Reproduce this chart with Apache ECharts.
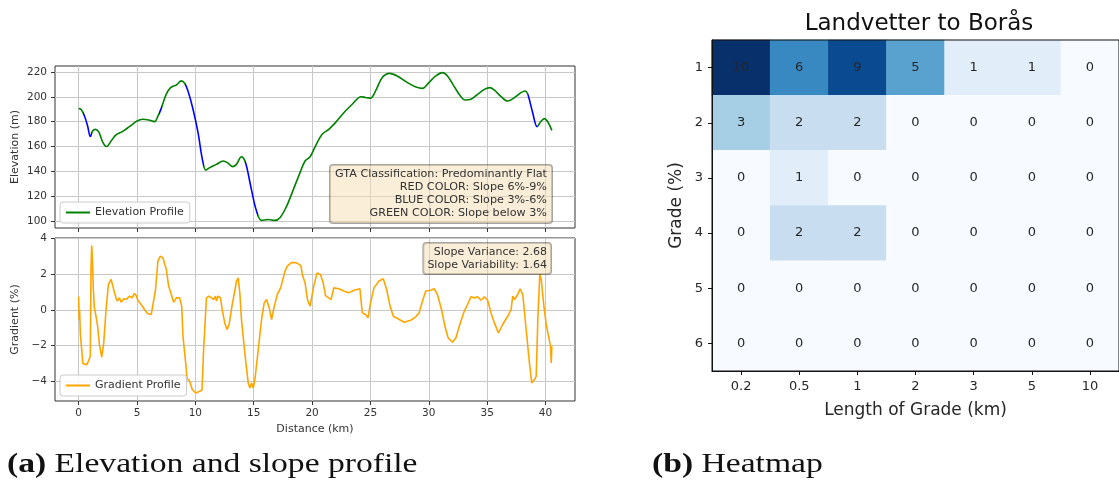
<!DOCTYPE html>
<html><head><meta charset="utf-8">
<script src="https://cdn.jsdelivr.net/npm/echarts@6/dist/echarts.min.js"></script>
<style>html,body{margin:0;padding:0;background:#fff}#c{width:1119px;height:484px}</style>
</head><body><div id="c"></div>
<script>
// ---------- Elevation profile (distance km, elevation m) ----------
const elevDist = [0,0.2,0.5,0.77,1.0,1.2,1.43,1.72,2.06,2.4,2.78,3.2,3.78,4.35,5.0,5.5,6.0,6.5,6.8,7.08,7.5,7.88,8.37,8.8,9.08,9.37,9.8,10.23,10.6,10.9,11.23,11.8,12.38,12.75,13.18,13.52,13.95,14.15,14.38,14.8,15.24,15.67,16.25,16.8,17.25,17.82,18.4,18.97,19.4,19.83,20.29,20.86,21.43,22.0,22.72,23.44,24.2,24.58,25.0,25.44,26.0,26.65,27.3,28.17,28.9,29.46,30.0,30.6,31.17,31.6,32.18,32.75,33.1,33.6,34.18,34.76,35.24,35.6,36.2,36.76,37.33,37.9,38.25,38.48,38.9,39.28,39.63,39.9,40.2,40.54];
const elevValues = [190.5,190,184.6,176.5,168,172.5,173.8,171.7,163.6,160,164.4,169.3,172.2,176,180.5,181.9,181.3,180,184.6,190.7,202,207.4,209.5,212.8,210.9,204.7,190,171.1,149.7,141,143,145.6,148.3,147,143.8,145.6,151.8,150.2,144.3,125.5,108,100.5,101.3,100.5,102.7,112,125.5,139,148.3,151.8,160.4,169.8,173.8,179.2,187.2,194,200.1,199.5,198.8,204.7,215.4,218.9,216.8,211.4,207.9,206.8,211.4,216.8,219.5,216.8,208.2,200.1,197.4,198,202,206,207.4,205.5,200.1,196.6,199.3,203.4,204.7,202,187.2,176,180.5,182.4,179.7,173];
// distance ranges drawn in blue (slope 3%-6%)
const blueSegments = [[0.35,1.15],[6.9,7.1],[9.1,10.7],[14.25,15.4],[38.5,39.3]];

// ---------- Gradient profile (distance km, gradient %) ----------
const gradDist = [0,0.04,0.08,0.15,0.26,0.36,0.5,0.69,0.83,0.92,1.0,1.06,1.12,1.17,1.26,1.35,1.49,1.63,1.78,1.98,2.15,2.35,2.55,2.78,2.92,3.15,3.3,3.5,3.64,3.87,4.07,4.36,4.58,4.78,4.93,5.07,5.36,5.64,5.93,6.22,6.36,6.59,6.79,6.99,7.22,7.51,7.71,7.94,8.14,8.37,8.65,8.83,8.94,9.17,9.28,9.51,9.74,10.03,10.37,10.57,10.72,10.95,11.17,11.38,11.58,11.72,11.81,11.95,12.15,12.32,12.52,12.72,12.89,13.18,13.38,13.52,13.67,13.81,13.95,14.15,14.33,14.53,14.67,14.81,14.96,15.1,15.39,15.67,15.9,16.1,16.33,16.53,16.73,17.02,17.31,17.68,17.88,18.25,18.62,19.03,19.2,19.4,19.6,19.83,20.14,20.43,20.72,20.95,21.15,21.43,21.63,21.86,22.29,22.72,23.15,23.58,24.1,24.3,24.58,24.79,25.01,25.3,25.73,26.1,26.39,26.68,26.96,27.36,27.88,28.45,28.88,29.17,29.46,29.74,30.17,30.46,30.74,31.09,31.38,31.66,32.03,32.32,32.61,32.98,33.32,33.61,33.9,34.18,34.47,34.76,35.04,35.33,35.62,35.96,36.33,36.76,37.05,37.19,37.34,37.62,37.82,38.05,38.34,38.62,38.82,39.05,39.2,39.34,39.51,39.63,39.86,40.06,40.26,40.43,40.49,40.54];
const gradValues = [0.75,-0.55,0.0,-1.4,-2.2,-3.0,-3.07,-3.07,-2.88,-2.97,-2.6,2.26,3.6,3.0,1.14,0.11,-0.36,-0.92,-1.94,-2.64,-1.85,0.02,1.42,1.7,1.6,0.77,0.49,0.67,0.43,0.62,0.58,0.77,0.67,0.92,0.8,0.54,0.3,0.02,-0.22,-0.26,-0.17,1.14,2.73,3.0,2.92,2.26,1.33,0.86,0.43,0.67,0.67,0.21,-1.48,-2.97,-3.81,-4.0,-4.47,-4.65,-4.56,-4.47,-2.04,0.67,0.77,0.67,0.58,0.77,0.49,0.77,0.67,-0.07,-0.73,-1.1,-0.82,0.39,1.05,1.61,1.79,0.95,-0.54,-1.85,-2.97,-4.09,-4.37,-4.09,-4.37,-3.9,-2.22,-0.54,0.39,0.58,0.11,-0.54,0.11,0.86,1.23,2.17,2.45,2.65,2.64,2.49,1.89,1.51,0.58,0.21,1.33,2.07,1.98,1.51,0.8,0.67,0.58,1.23,1.18,1.05,0.95,1.1,1.18,-0.17,-0.26,-0.45,0.39,1.23,1.61,1.74,1.14,0.21,-0.36,-0.5,-0.69,-0.58,-0.39,-0.17,0.49,1.05,1.1,1.18,0.86,0.02,-0.92,-1.57,-1.81,-1.57,-0.92,-0.17,0.3,0.73,0.67,0.73,0.54,0.73,0.54,-0.17,-0.73,-1.29,-0.82,-0.36,0.02,0.77,0.58,0.86,1.18,0.86,-1.1,-2.97,-4.09,-3.9,-3.72,-0.54,2.0,1.7,0.21,-0.82,-1.48,-2.04,-2.97,-2.04];

const distTicks = [0,5,10,15,20,25,30,35,40];
const elevTicks = [100,120,140,160,180,200,220];
const gradTicks = [-4,-2,0,2,4];
const slopeVariance = 2.68;
const slopeVariability = 1.64;

// ---------- Heatmap ----------
const lengthCats = ['0.2','0.5','1','2','3','5','10'];
const gradeCats = ['1','2','3','4','5','6'];
const heatRow1 = [10,6,9,5,1,1,0];
const heatRow2 = [3,2,2,0,0,0,0];
const heatRow3 = [0,1,0,0,0,0,0];
const heatRow4 = [0,2,2,0,0,0,0];
const heatRow5 = [0,0,0,0,0,0,0];
const heatRow6 = [0,0,0,0,0,0,0];
const heatRows = [heatRow1,heatRow2,heatRow3,heatRow4,heatRow5,heatRow6];

const FONT = '"DejaVu Sans", sans-serif';
const minusFmt = v => (v < 0 ? '\u2212' + Math.abs(v) : String(v));

const heatData = [];
heatRows.forEach((row, yi) => row.forEach((v, xi) => heatData.push([xi, yi, v])));

const chart = echarts.init(document.getElementById('c'), null, {renderer: 'canvas'});
const gridLine = {show: true, lineStyle: {color: '#c8c8c8', width: 1}};
const tickStyle = {lineStyle: {color: '#333'}};
const labelBase = {fontFamily: FONT, fontSize: 10.5, color: '#333'};
const legendBase = {selectedMode: false, backgroundColor: 'rgba(255,255,255,0.85)',
  borderColor: '#cccccc', borderWidth: 1, borderRadius: 3, padding: [5, 6, 5, 6],
  icon: 'rect', itemWidth: 24, itemHeight: 2, itemGap: 8,
  textStyle: {fontFamily: FONT, fontSize: 11, color: '#333'}};
const boxStyle = {align: 'right', verticalAlign: 'top', fill: '#333', lineHeight: 13,
  backgroundColor: 'rgba(245,222,179,0.5)', borderColor: 'rgba(0,0,0,0.35)', borderWidth: 1, borderRadius: 3};

chart.setOption({
  animation: false,
  backgroundColor: '#fff',
  grid: [
    {left: 55, top: 66, width: 520, height: 162, show: true, borderColor: '#333', borderWidth: 1, backgroundColor: 'transparent'},
    {left: 55, top: 238, width: 520, height: 163, show: true, borderColor: '#333', borderWidth: 1, backgroundColor: 'transparent'},
    {left: 712, top: 40, width: 414, height: 331, show: true, borderColor: '#111', borderWidth: 1, backgroundColor: 'transparent', z: 5}
  ],
  xAxis: [
    {gridIndex: 0, type: 'value', min: -2.025, max: 42.525,
     axisLine: {show: false, onZero: false},
     axisTick: Object.assign({show: true, length: 4, customValues: distTicks}, tickStyle),
     axisLabel: {show: false, customValues: distTicks},
     splitLine: gridLine},
    {gridIndex: 1, type: 'value', min: -2.025, max: 42.525,
     axisLine: {show: false, onZero: false},
     axisTick: Object.assign({show: true, length: 4, customValues: distTicks}, tickStyle),
     axisLabel: Object.assign({customValues: distTicks, margin: 7}, labelBase),
     splitLine: gridLine,
     name: 'Distance (km)', nameLocation: 'middle', nameGap: 23,
     nameTextStyle: {fontFamily: FONT, fontSize: 11, color: '#333'}},
    {gridIndex: 2, type: 'category', data: lengthCats, position: 'bottom', z: 6,
     axisLine: {show: true, lineStyle: {color: '#111'}},
     axisTick: {show: true, alignWithLabel: true, length: 4, lineStyle: {color: '#111'}},
     axisLabel: {fontFamily: FONT, fontSize: 13, color: '#262626', margin: 9},
     splitLine: {show: false},
     name: 'Length of Grade (km)', nameLocation: 'middle', nameGap: 31,
     nameTextStyle: {fontFamily: FONT, fontSize: 17, color: '#262626'}}
  ],
  yAxis: [
    {gridIndex: 0, type: 'value', min: 94.4, max: 224.8,
     axisLine: {show: false, onZero: false},
     axisTick: Object.assign({show: true, length: 4, customValues: elevTicks}, tickStyle),
     axisLabel: Object.assign({customValues: elevTicks, margin: 8}, labelBase),
     splitLine: gridLine,
     name: 'Elevation (m)', nameLocation: 'middle', nameGap: 34, nameRotate: 90,
     nameTextStyle: {fontFamily: FONT, fontSize: 11, color: '#333'}},
    {gridIndex: 1, type: 'value', min: -5.1, max: 4.02,
     axisLine: {show: false, onZero: false},
     axisTick: Object.assign({show: true, length: 4, customValues: gradTicks}, tickStyle),
     axisLabel: Object.assign({customValues: gradTicks, margin: 8, formatter: minusFmt}, labelBase),
     splitLine: gridLine,
     name: 'Gradient (%)', nameLocation: 'middle', nameGap: 34, nameRotate: 90,
     nameTextStyle: {fontFamily: FONT, fontSize: 11, color: '#333'}},
    {gridIndex: 2, type: 'category', data: gradeCats, inverse: true, z: 6,
     axisLine: {show: true, lineStyle: {color: '#111'}},
     axisTick: {show: true, alignWithLabel: true, length: 4, lineStyle: {color: '#111'}},
     axisLabel: {fontFamily: FONT, fontSize: 13, color: '#262626', margin: 9},
     splitLine: {show: false},
     name: 'Grade (%)', nameLocation: 'middle', nameGap: 27, nameRotate: 90,
     nameTextStyle: {fontFamily: FONT, fontSize: 17, color: '#262626'}}
  ],
  visualMap: [
    {type: 'piecewise', show: false, seriesIndex: 0, dimension: 0,
     pieces: blueSegments.map(s => ({gte: s[0], lte: s[1], color: '#0000ff'})),
     outOfRange: {color: '#008000'}},
    {type: 'continuous', show: false, seriesIndex: 2, min: 0, max: 10, dimension: 2,
     inRange: {color: ['#f7fbff','#e1edf8','#c9ddf0','#a6cee4','#82badb','#59a1cf','#3888c1','#1f6db1','#0d58a1','#0a4a90','#08306b']}}
  ],
  legend: [
    Object.assign({data: [{name: 'Elevation Profile', itemStyle: {color: '#008000'}}], left: 60, top: 202}, legendBase),
    Object.assign({data: [{name: 'Gradient Profile', itemStyle: {color: '#ffa500'}}], left: 60, top: 375}, legendBase)
  ],
  series: [
    {type: 'line', name: 'Elevation Profile', xAxisIndex: 0, yAxisIndex: 0,
     data: elevDist.map((d, i) => [d, elevValues[i]]),
     symbol: 'none', showSymbol: false, smooth: 0.35, z: 3,
     lineStyle: {width: 1.6}, emphasis: {disabled: true}},
    {type: 'line', name: 'Gradient Profile', xAxisIndex: 1, yAxisIndex: 1,
     data: gradDist.map((d, i) => [d, gradValues[i]]),
     symbol: 'none', showSymbol: false, z: 3, color: '#ffa500',
     lineStyle: {width: 1.6, color: '#ffa500'}, emphasis: {disabled: true}},
    {type: 'heatmap', xAxisIndex: 2, yAxisIndex: 2, data: heatData,
     label: {show: true, fontFamily: FONT, fontSize: 13, color: '#262626'},
     emphasis: {disabled: true}}
  ],
  graphic: [
    {type: 'text', x: 552, y: 165, z: 20,
     style: Object.assign({text: 'GTA Classification: Predominantly Flat\nRED COLOR: Slope 6%-9%\nBLUE COLOR: Slope 3%-6%\nGREEN COLOR: Slope below 3%',
       font: '11.2px "DejaVu Sans"', padding: [3, 5, 3, 5]}, boxStyle)},
    {type: 'text', x: 551, y: 243, z: 20,
     style: Object.assign({text: 'Slope Variance: ' + slopeVariance.toFixed(2) + '\nSlope Variability: ' + slopeVariability.toFixed(2),
       font: '11px "DejaVu Sans"', padding: [3, 4, 2, 4]}, boxStyle)},
    {type: 'text', x: 919, y: 13,
     style: {text: 'Landvetter to Borås', align: 'center', verticalAlign: 'top', font: '23px "DejaVu Sans"', fill: '#111'}},
    {type: 'text', x: 7, y: 451, scaleX: 1.2,
     style: {text: '{b|(a)} Elevation and slope profile', verticalAlign: 'top', font: '28px "Liberation Serif"', fill: '#111',
       rich: {b: {font: 'bold 28px "Liberation Serif"', fill: '#111'}}}},
    {type: 'text', x: 652, y: 451, scaleX: 1.2,
     style: {text: '{b|(b)} Heatmap', verticalAlign: 'top', font: '28px "Liberation Serif"', fill: '#111',
       rich: {b: {font: 'bold 28px "Liberation Serif"', fill: '#111'}}}}
  ]
});
</script></body></html>
